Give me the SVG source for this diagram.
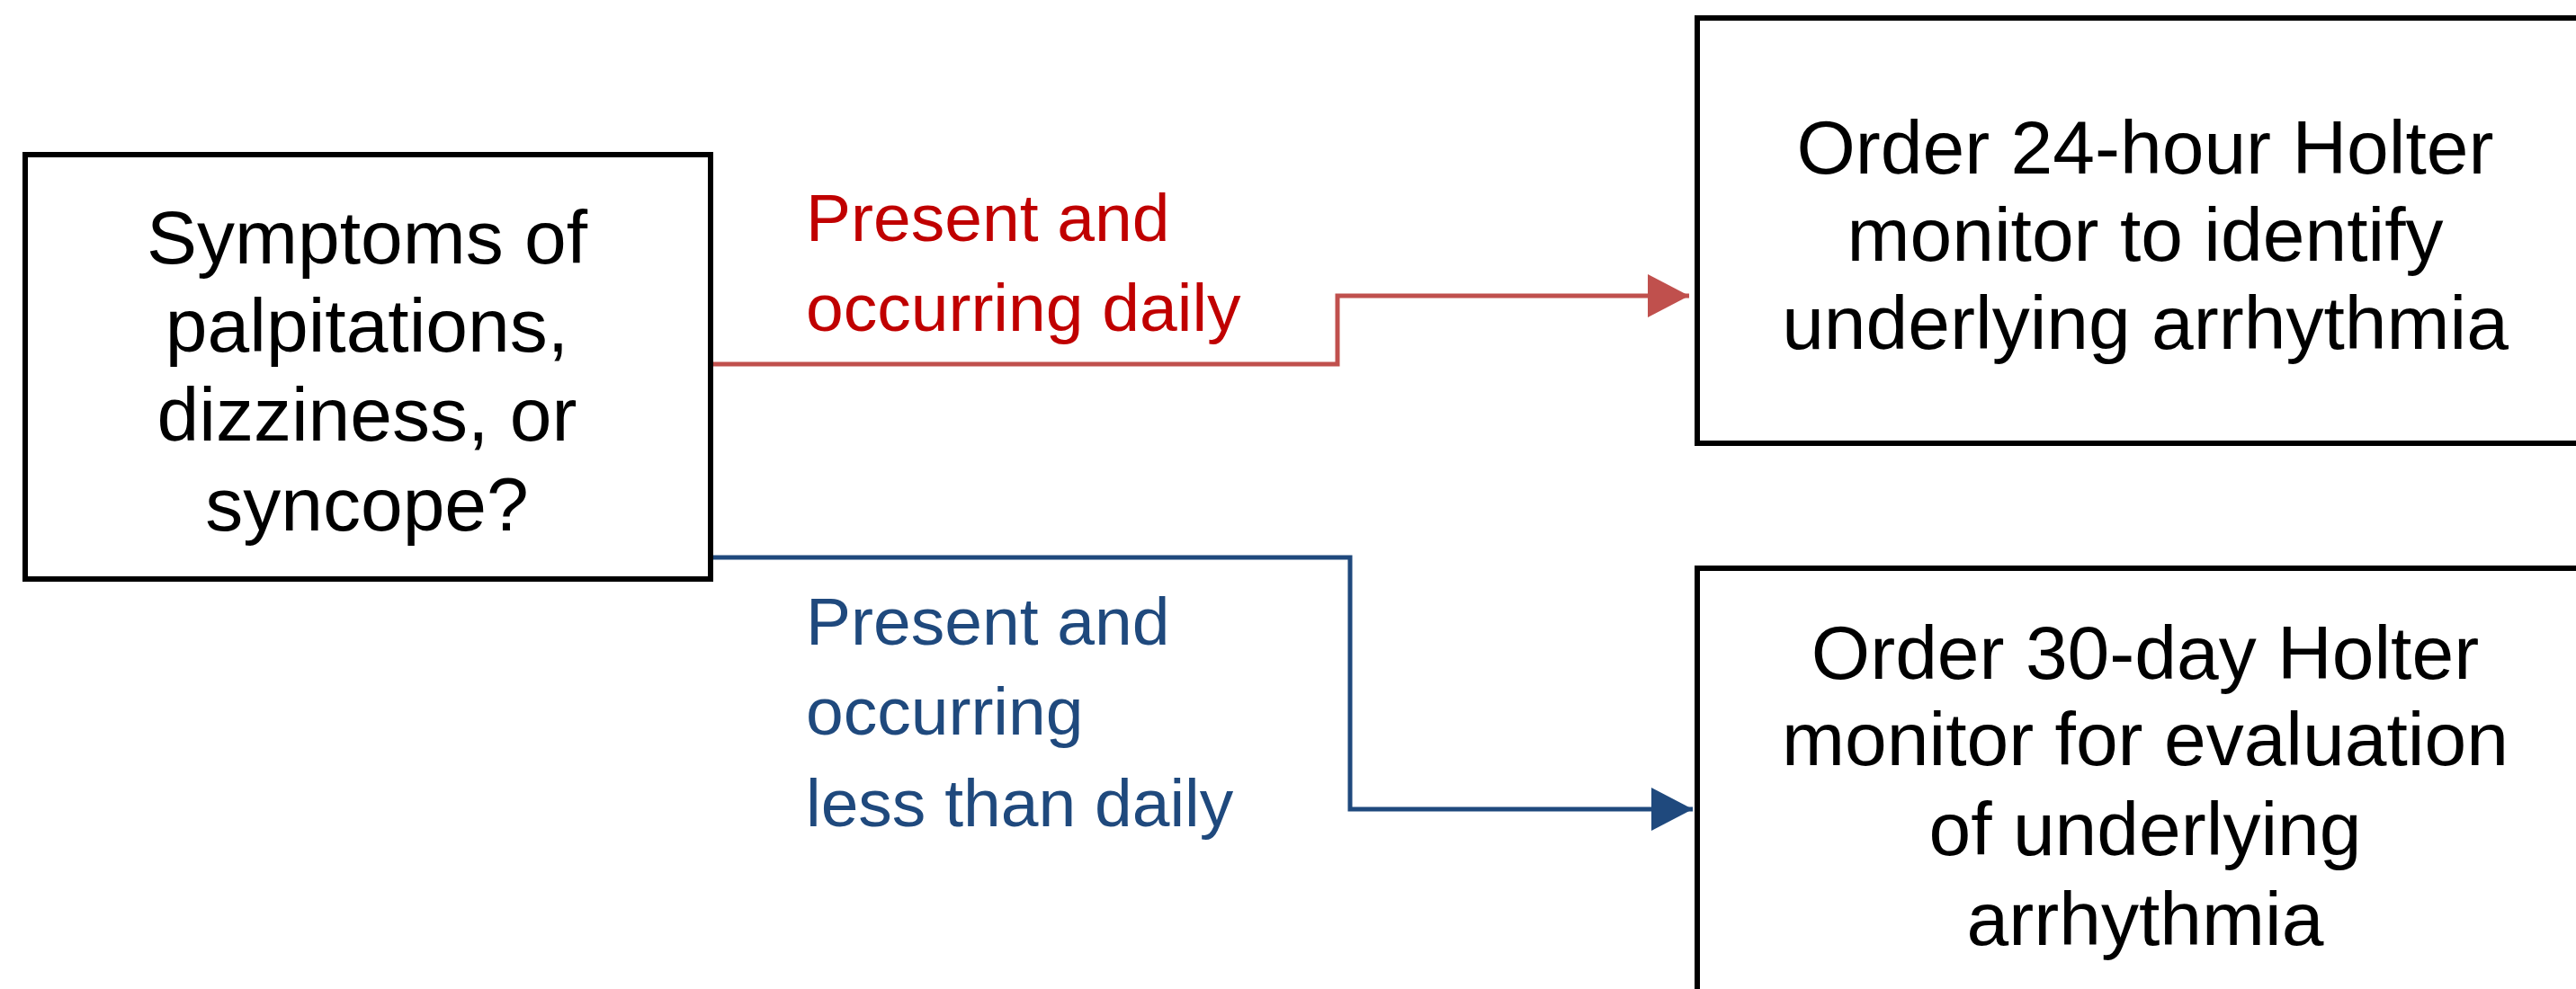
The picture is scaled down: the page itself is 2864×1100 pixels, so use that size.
<svg xmlns="http://www.w3.org/2000/svg" width="2864" height="1100" viewBox="0 0 2864 1100">
<style>
.box{fill:#fff;stroke:#000;stroke-width:6}
.t{font-family:"Liberation Sans",Arial,sans-serif;font-size:84px;fill:#000;text-anchor:middle}
.lbl{font-family:"Liberation Sans",Arial,sans-serif;font-size:75px}
.red{fill:#c00000}
.blue{fill:#1f497d}
.ln{fill:none;stroke-width:5}
</style>
<defs>
<marker id="ar" markerUnits="userSpaceOnUse" markerWidth="46" markerHeight="48" refX="46" refY="24" orient="auto">
<path d="M0,0 L46,24 L0,48 z" fill="#c0504d"/>
</marker>
<marker id="ab" markerUnits="userSpaceOnUse" markerWidth="46" markerHeight="48" refX="46" refY="24" orient="auto">
<path d="M0,0 L46,24 L0,48 z" fill="#1f497d"/>
</marker>
</defs>
<rect width="2864" height="1100" fill="#fff"/>
<g id="connectors">
<polyline class="ln" stroke="#c0504d" points="790,405 1487,405 1487,329 1878,329" marker-end="url(#ar)"/>
<polyline class="ln" stroke="#1f497d" points="790,620 1501,620 1501,900 1882,900" marker-end="url(#ab)"/>
<text class="lbl red" x="896" y="268">Present and</text>
<text class="lbl red" x="896" y="368">occurring daily</text>
<text class="lbl blue" x="896" y="717">Present and</text>
<text class="lbl blue" x="896" y="817">occurring</text>
<text class="lbl blue" x="896" y="919">less than daily</text>
</g>
<g id="start">
<rect class="box" x="28" y="172" width="762" height="472"/>
<text class="t" x="408" y="293">Symptoms of</text>
<text class="t" x="408" y="391">palpitations,</text>
<text class="t" x="408" y="490">dizziness, or</text>
<text class="t" x="408" y="590">syncope?</text>
</g>
<g id="holter24">
<rect class="box" x="1887" y="20" width="1000" height="473"/>
<text class="t" x="2385" y="193">Order 24-hour Holter</text>
<text class="t" x="2385" y="290">monitor to identify</text>
<text class="t" x="2385" y="388">underlying arrhythmia</text>
</g>
<g id="holter30">
<rect class="box" x="1887" y="632" width="1000" height="500"/>
<text class="t" x="2385" y="755">Order 30-day Holter</text>
<text class="t" x="2385" y="851">monitor for evaluation</text>
<text class="t" x="2385" y="951">of underlying</text>
<text class="t" x="2385" y="1051">arrhythmia</text>
</g>
</svg>
